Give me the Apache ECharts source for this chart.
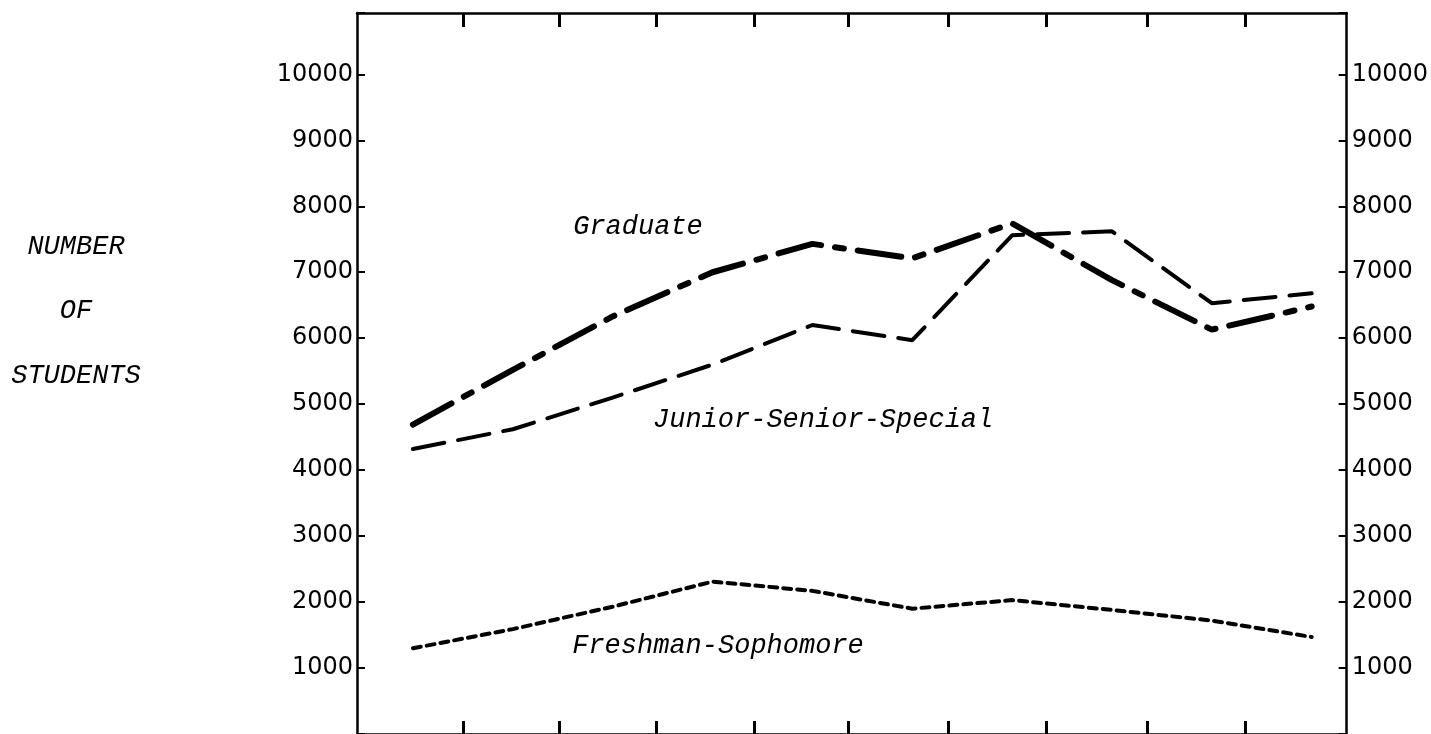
<!DOCTYPE html>
<html>
<head>
<meta charset="utf-8">
<script src="https://cdn.jsdelivr.net/npm/echarts@6/dist/echarts.min.js"></script>
<style>
  html, body { margin: 0; padding: 0; background: #fff; overflow: hidden; }
  #chart { width: 1431px; height: 734px; }
</style>
</head>
<body>
<div id="chart"></div>
<script>
// one point per period, left to right
const periods = [0, 1, 2, 3, 4, 5, 6, 7, 8, 9];
const graduate = [4690, 5520, 6330, 7000, 7430, 7210, 7740, 6880, 6130, 6480];
const juniorSeniorSpecial = [4320, 4620, 5100, 5600, 6200, 5970, 7560, 7620, 6530, 6680];
const freshmanSophomore = [1300, 1590, 1930, 2310, 2170, 1900, 2030, 1880, 1720, 1470];
// hand-ruled tick marks on the frame, roughly between the periods
const periodTicks = [0.5, 1.47, 2.44, 3.42, 4.36, 5.36, 6.34, 7.35, 8.33];

const ink = "#000";
const mono = "'Liberation Mono', 'DejaVu Sans Mono', monospace";

const chart = echarts.init(document.getElementById("chart"), null, { renderer: "canvas" });

function frameX(pos, len) {
  return {
    type: "value",
    position: pos,
    min: -0.56,
    max: 9.35,
    axisLine: { show: true, onZero: false, lineStyle: { color: ink, width: 2.5 } },
    axisTick: { show: true, inside: true, length: len, customValues: periodTicks, lineStyle: { color: ink, width: 3 } },
    axisLabel: { show: false },
    splitLine: { show: false }
  };
}

function frameY(pos, margin) {
  return {
    type: "value",
    position: pos,
    min: 0,
    max: 10930,
    interval: 1000,
    axisLine: { show: true, onZero: false, lineStyle: { color: ink, width: 2.5 } },
    axisTick: { show: true, inside: true, length: 8, lineStyle: { color: ink, width: 2 } },
    axisLabel: {
      show: true,
      margin: margin,
      color: ink,
      fontFamily: "'DejaVu Sans', sans-serif",
      fontSize: 24,
      formatter: function (v) { return v > 0 && v <= 10000 ? String(v) : ""; }
    },
    splitLine: { show: false }
  };
}

function line(name, values, width, dash) {
  return {
    name: name,
    type: "line",
    data: periods.map(function (p, i) { return [p, values[i]]; }),
    symbol: "none",
    lineStyle: { color: ink, width: width, type: dash, cap: "round" },
    animation: false
  };
}

function note(text, x, y, align) {
  return {
    type: "text",
    x: x,
    y: y,
    style: {
      text: text,
      fill: ink,
      font: "italic 27px " + mono,
      textAlign: align || "center",
      textVerticalAlign: "middle"
    }
  };
}

chart.setOption({
  backgroundColor: "#fff",
  animation: false,
  grid: { left: 357, right: 84, top: 13, height: 725 },
  xAxis: [frameX("bottom", 13), frameX("top", 14)],
  yAxis: [frameY("left", 4), frameY("right", 5)],
  series: [
    line("Graduate", graduate, 6, [44, 14, 9, 14]),
    line("Junior-Senior-Special", juniorSeniorSpecial, 4, [32, 14]),
    line("Freshman-Sophomore", freshmanSophomore, 4, [8, 6])
  ],
  graphic: [
    note("NUMBER", 76, 247),
    note("OF", 76, 311),
    note("STUDENTS", 76, 376),
    note("Graduate", 638, 227),
    note("Junior-Senior-Special", 653, 420, "left"),
    note("Freshman-Sophomore", 718, 646)
  ]
});
</script>
</body>
</html>
